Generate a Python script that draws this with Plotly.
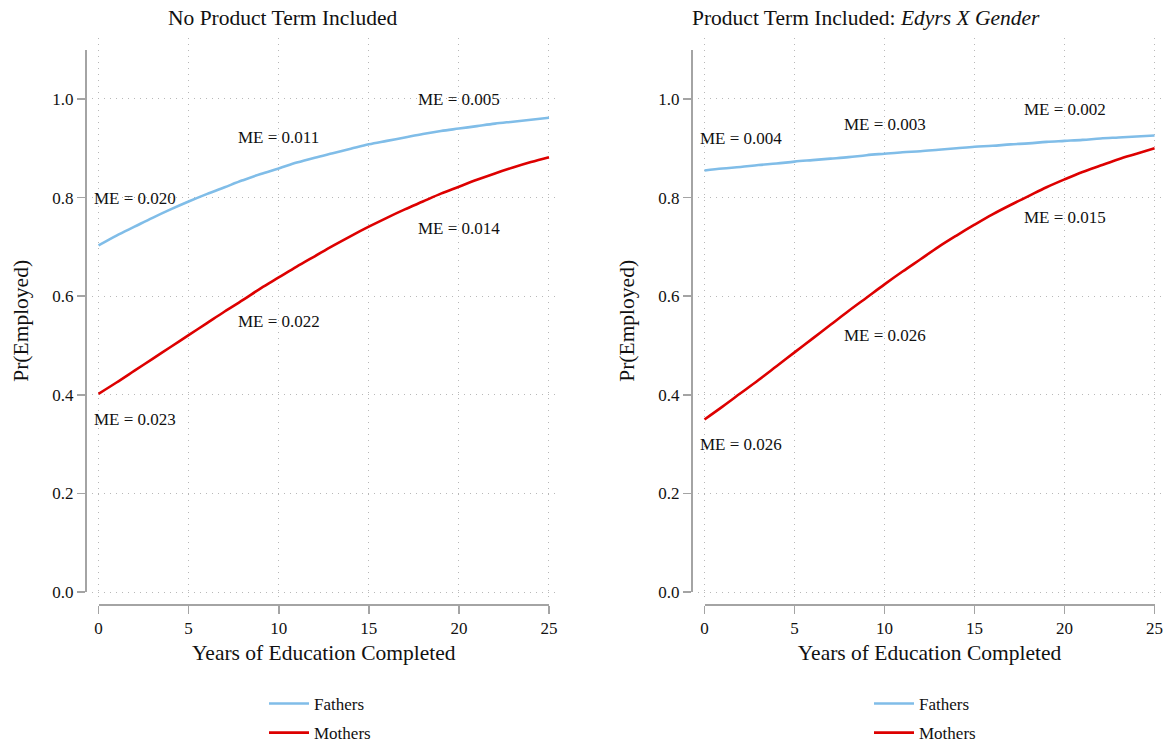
import plotly.graph_objects as go

# ---------------- data ----------------
years = list(range(0, 26))

left_fathers = [0.703, 0.723, 0.741, 0.759, 0.776, 0.792, 0.807, 0.821, 0.835, 0.848,
                0.859, 0.871, 0.881, 0.890, 0.899, 0.908, 0.915, 0.922, 0.929, 0.935,
                0.940, 0.945, 0.950, 0.954, 0.958, 0.962]
left_mothers = [0.402, 0.425, 0.449, 0.473, 0.497, 0.521, 0.545, 0.569, 0.592, 0.616,
                0.638, 0.660, 0.681, 0.702, 0.722, 0.741, 0.759, 0.776, 0.792, 0.808,
                0.822, 0.836, 0.849, 0.861, 0.872, 0.882]
right_fathers = [0.855, 0.859, 0.862, 0.866, 0.869, 0.873, 0.876, 0.879, 0.882, 0.886,
                 0.889, 0.892, 0.894, 0.897, 0.900, 0.903, 0.905, 0.908, 0.910, 0.913,
                 0.915, 0.917, 0.920, 0.922, 0.924, 0.926]
right_mothers = [0.350, 0.376, 0.403, 0.430, 0.458, 0.486, 0.514, 0.542, 0.570, 0.597,
                 0.624, 0.650, 0.675, 0.700, 0.723, 0.745, 0.766, 0.785, 0.803, 0.821,
                 0.837, 0.852, 0.865, 0.878, 0.889, 0.900]

x_ticks = [0, 5, 10, 15, 20, 25]
y_ticks = [0.0, 0.2, 0.4, 0.6, 0.8, 1.0]
y_tick_text = ["0.0", "0.2", "0.4", "0.6", "0.8", "1.0"]

left_me_x = [2, 10, 20, 2, 10, 20]
left_me_y = [0.799, 0.921, 0.998, 0.349, 0.548, 0.738]
left_me_text = ["ME = 0.020", "ME = 0.011", "ME = 0.005", "ME = 0.023", "ME = 0.022", "ME = 0.014"]
right_me_x = [2, 10, 20, 2, 10, 20]
right_me_y = [0.919, 0.949, 0.978, 0.300, 0.520, 0.759]
right_me_text = ["ME = 0.004", "ME = 0.003", "ME = 0.002", "ME = 0.026", "ME = 0.026", "ME = 0.015"]

titles = ["No Product Term Included", "Product Term Included: <i>Edyrs X Gender</i>"]
x_title = "Years of Education Completed"
y_title = "Pr(Employed)"
series_names = ["Fathers", "Mothers"]

# ---------------- style ----------------
W, H = 1166, 770             # page is 742 tall; extra height is clipped by the window
FONT = "Liberation Serif, Times New Roman, serif"
C_F = "#80bde8"
C_M = "#dd0000"
AXC = "#a4a4a4"
GRIDC = "#b8b8b8"


def px_x(p):
    return p / W


def px_y(p):
    return 1 - p / H


fig = go.Figure()

panels = [
    dict(fathers=left_fathers, mothers=left_mothers, xs="x", ys="y", fx="x3", fy="y3",
         legend="legend", mex=left_me_x, mey=left_me_y, met=left_me_text),
    dict(fathers=right_fathers, mothers=right_mothers, xs="x2", ys="y2", fx="x4", fy="y4",
         legend="legend2", mex=right_me_x, mey=right_me_y, met=right_me_text),
]

for i, p in enumerate(panels):
    # invisible trace so the frame axes (offset axis lines) are drawn
    fig.add_trace(go.Scatter(x=[0], y=[0], mode="markers", marker=dict(opacity=0),
                             xaxis=p["fx"], yaxis=p["fy"], showlegend=False, hoverinfo="skip"))
    fig.add_trace(go.Scatter(x=years, y=p["fathers"], mode="lines", name=series_names[0],
                             line=dict(color=C_F, width=2.6, shape="spline"),
                             xaxis=p["xs"], yaxis=p["ys"], legend=p["legend"],
                             legendgroup=f"f{i}", hoverinfo="skip"))
    fig.add_trace(go.Scatter(x=years, y=p["mothers"], mode="lines", name=series_names[1],
                             line=dict(color=C_M, width=2.6, shape="spline"),
                             xaxis=p["xs"], yaxis=p["ys"], legend=p["legend"],
                             legendgroup=f"m{i}", hoverinfo="skip"))
    for xx, yy, tt in zip(p["mex"], p["mey"], p["met"]):
        fig.add_annotation(x=xx, y=yy, xref=p["xs"], yref=p["ys"], text=tt, showarrow=False,
                           font=dict(family=FONT, size=17, color="#111"))

# data axes (gridlines only)
y_dom = [px_y(600), px_y(38)]
y_rng = [-0.0162, 1.1237]
grid_common = dict(showgrid=True, gridcolor=GRIDC, griddash="1px,5px", gridwidth=1,
                   zeroline=False, showline=False, ticks="", showticklabels=False)
fig.update_layout(
    xaxis=dict(domain=[px_x(92), px_x(558)], range=[-0.361, 25.5], tickvals=x_ticks,
               anchor="y", **grid_common),
    yaxis=dict(domain=y_dom, range=y_rng, tickvals=y_ticks, anchor="x", **grid_common),
    xaxis2=dict(domain=[px_x(698), px_x(1163)], range=[-0.361, 25.47], tickvals=x_ticks,
                anchor="y2", **grid_common),
    yaxis2=dict(domain=y_dom, range=y_rng, tickvals=y_ticks, anchor="x2", **grid_common),
)

# frame axes (offset axis lines, ticks, labels, titles)
tickfont = dict(family=FONT, size=17, color="#111")
titlefont = dict(family=FONT, size=21.5, color="#111")
frame_x = dict(range=[0, 25], tickvals=x_ticks, ticktext=[str(t) for t in x_ticks],
               showline=True, linecolor=AXC, linewidth=1.6, ticks="outside", ticklen=8,
               tickcolor=AXC, tickwidth=1.6, showgrid=False, zeroline=False,
               tickfont=tickfont, anchor="free", position=px_y(604),
               ticklabeloverflow="allow",
               title=dict(text=x_title, font=titlefont, standoff=8))
frame_y = dict(range=[0, 1.1], tickvals=y_ticks, ticktext=y_tick_text,
               showline=True, linecolor=AXC, linewidth=1.6, ticks="outside", ticklen=8,
               tickcolor=AXC, tickwidth=1.6, showgrid=False, zeroline=False,
               tickfont=tickfont, anchor="free", domain=[px_y(592), px_y(49.7)],
               title=dict(text=y_title, font=titlefont, standoff=16))
fig.update_layout(
    xaxis3=dict(domain=[px_x(98.5), px_x(549)], **frame_x),
    yaxis3=dict(position=px_x(85), **frame_y),
    xaxis4=dict(domain=[px_x(704.5), px_x(1154.5)], **frame_x),
    yaxis4=dict(position=px_x(691), **frame_y),
)

# panel titles
for tx, t in zip([282, 866], titles):
    fig.add_annotation(x=px_x(tx), y=px_y(18), xref="paper", yref="paper", text=t,
                       showarrow=False, font=dict(family=FONT, size=21.5, color="#111"),
                       xanchor="center", yanchor="middle")

legend_common = dict(font=dict(family=FONT, size=17, color="#111"), bgcolor="rgba(0,0,0,0)",
                     borderwidth=0, tracegroupgap=4, traceorder="grouped",
                     xanchor="left", yanchor="top", itemwidth=40)
fig.update_layout(
    legend=dict(x=px_x(264), y=px_y(686), **legend_common),
    legend2=dict(x=px_x(869), y=px_y(686), **legend_common),
)

fig.update_layout(
    width=W, height=H, margin=dict(l=0, r=0, t=0, b=0, autoexpand=False),
    paper_bgcolor="white", plot_bgcolor="rgba(0,0,0,0)", showlegend=True,
    font=dict(family=FONT, color="#111"), hovermode=False,
)

fig.write_html(
    "out.html",
    config={"displayModeBar": False, "staticPlot": True},
    post_script=("document.body.style.margin='0';"
                 "document.body.style.overflow='hidden';"
                 "document.documentElement.style.overflow='hidden';"),
)
